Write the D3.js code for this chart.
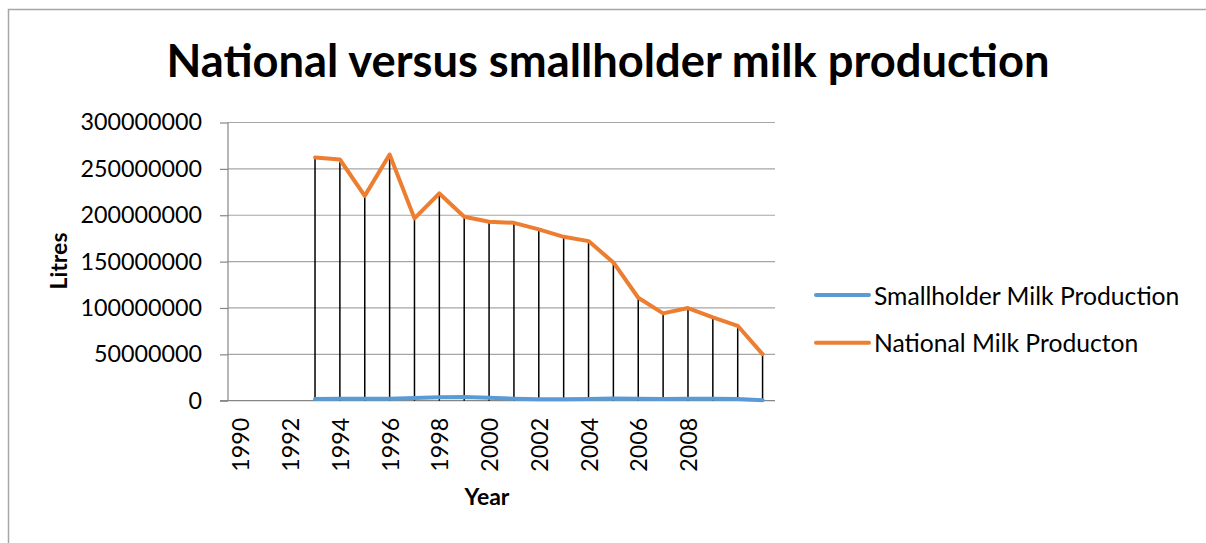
<!DOCTYPE html>
<html>
<head>
<meta charset="utf-8">
<script src="https://cdn.jsdelivr.net/npm/d3@7"></script>
<style>
  html, body { margin: 0; padding: 0; background: #fff; }
  svg { display: block; font-family: Lato, "Open Sans", sans-serif; }
</style>
</head>
<body>
<svg id="chart" width="1206" height="543"></svg>
<script>
// ---- data ----
const years = [1990, 1991, 1992, 1993, 1994, 1995, 1996, 1997, 1998, 1999, 2000,
               2001, 2002, 2003, 2004, 2005, 2006, 2007, 2008, 2009, 2010, 2011];
const tickLabels = [1990, 1992, 1994, 1996, 1998, 2000, 2002, 2004, 2006, 2008];
const yTicks = [0, 50000000, 100000000, 150000000, 200000000, 250000000, 300000000];
const smallholder = [null, null, null, 1800000, 2000000, 2000000, 2000000, 2800000, 3800000, 3900000,
                     3200000, 2200000, 1600000, 1600000, 1900000, 2300000, 2000000, 1700000,
                     2000000, 2000000, 1900000, 600000];
const national = [null, null, null, 262300000, 260100000, 220900000, 265500000, 196600000,
                  223500000, 198300000, 192900000, 191800000, 184700000, 176700000, 172100000,
                  149100000, 111000000, 94200000, 99900000, 89900000, 80800000, 50300000];
const seriesNames = ["Smallholder Milk Production", "National Milk Producton"];
const seriesColors = ["#5B9BD5", "#ED7D31"];
const title = "National versus smallholder milk production";

// ---- layout ----
const svg = d3.select("#chart");
const plotL = 228, plotR = 775, plotT = 122.5, plotB = 400.7;

const x = d3.scaleBand().domain(years).range([plotL, plotR]);
const cx = d => x(d) + x.bandwidth() / 2;
const y = d3.scaleLinear().domain([0, 300000000]).range([plotB, plotT]);

// chart border
svg.append("rect")
  .attr("x", 8.5).attr("y", 9.5).attr("width", 1220).attr("height", 560)
  .attr("fill", "none").attr("stroke", "#a6a6a6").attr("stroke-width", 1.5);

// title
svg.append("text")
  .attr("x", 608).attr("y", 77)
  .attr("text-anchor", "middle")
  .attr("font-weight", "bold").attr("font-size", 45.3)
  .attr("fill", "#000")
  .text(title);

// gridlines + y axis
svg.append("g").selectAll("line").data(yTicks.filter(d => d > 0)).join("line")
  .attr("x1", plotL).attr("x2", plotR)
  .attr("y1", d => y(d)).attr("y2", d => y(d))
  .attr("stroke", "#a6a6a6").attr("stroke-width", 1.2);

const yAxis = d3.axisLeft(y).tickValues(yTicks).tickSize(8).tickPadding(18)
  .tickFormat(d => String(d));
const gy = svg.append("g").attr("transform", `translate(${plotL},0)`).call(yAxis);
gy.select(".domain").attr("stroke", "#868686").attr("stroke-width", 1.2).attr("d", `M0,${plotT}V${plotB}`);
gy.selectAll(".tick line").attr("stroke", "#868686").attr("stroke-width", 1.2);
gy.selectAll(".tick text").attr("font-size", 23.3).attr("fill", "#000")
  .attr("font-family", "Lato, sans-serif");

// x axis
const xAxis = d3.axisBottom(x).tickSize(0).tickPadding(0)
  .tickFormat(d => tickLabels.includes(d) ? String(d) : "");
const gx = svg.append("g").attr("transform", `translate(0,${plotB})`).call(xAxis);
gx.select(".domain").attr("stroke", "#868686").attr("stroke-width", 1.2)
  .attr("d", `M${plotL - 8},0H${plotR}`);
gx.selectAll(".tick text")
  .attr("font-size", 23.3).attr("fill", "#000").attr("font-family", "Lato, sans-serif")
  .attr("text-anchor", "end")
  .attr("dy", null)
  .attr("x", 0).attr("y", 0)
  .attr("transform", "translate(0,17) rotate(-90)")
  .attr("dominant-baseline", "central");

// axis titles
svg.append("text")
  .attr("x", 487).attr("y", 505)
  .attr("text-anchor", "middle").attr("font-weight", "bold").attr("font-size", 23)
  .text("Year");
svg.append("text")
  .attr("transform", `translate(67,261) rotate(-90)`)
  .attr("text-anchor", "middle").attr("font-weight", "bold").attr("font-size", 23)
  .text("Litres");

// drop lines
const idx = years.map((d, i) => i).filter(i => national[i] !== null);
svg.append("g").selectAll("line").data(idx).join("line")
  .attr("x1", i => cx(years[i])).attr("x2", i => cx(years[i]))
  .attr("y1", i => y(national[i])).attr("y2", y(0))
  .attr("stroke", "#000").attr("stroke-width", 1.5);

// series lines
const line = vals => d3.line()
  .defined(i => vals[i] !== null)
  .x(i => cx(years[i]))
  .y(i => y(vals[i]))(years.map((d, i) => i));

[smallholder, national].forEach((vals, k) => {
  svg.append("path")
    .attr("d", line(vals))
    .attr("fill", "none")
    .attr("stroke", seriesColors[k])
    .attr("stroke-width", 4)
    .attr("stroke-linejoin", "round")
    .attr("stroke-linecap", "round");
});

// legend
const legendY = [295, 342.7];
seriesNames.forEach((name, k) => {
  svg.append("line")
    .attr("x1", 816).attr("x2", 869)
    .attr("y1", legendY[k]).attr("y2", legendY[k])
    .attr("stroke", seriesColors[k]).attr("stroke-width", 4)
    .attr("stroke-linecap", "round");
  svg.append("text")
    .attr("x", 874).attr("y", legendY[k])
    .attr("dominant-baseline", "central")
    .attr("font-size", 24.7).attr("fill", "#000")
    .text(name);
});
</script>
</body>
</html>
